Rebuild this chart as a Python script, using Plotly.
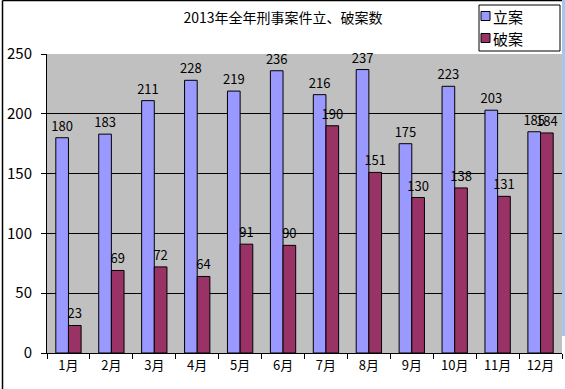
import plotly.graph_objects as go

months = ["1月", "2月", "3月", "4月", "5月", "6月", "7月", "8月", "9月", "10月", "11月", "12月"]
lian = [180, 183, 211, 228, 219, 236, 216, 237, 175, 223, 203, 185]
poan = [23, 69, 72, 64, 91, 90, 190, 151, 130, 138, 131, 184]
y_ticks = [0, 50, 100, 150, 200, 250]
series_names = ["立案", "破案"]
series_colors = ["#9999FF", "#993366"]

FONT = "Noto Sans CJK SC"
W, H = 565, 389
L, R, T, B = 47, 3, 54, 36
PW, PH = W - L - R, H - T - B


def px(x):
    return (x - L) / PW


def py(y):
    return 1 - (y - T) / PH


fig = go.Figure()
for name, vals, col in zip(series_names, [lian, poan], series_colors):
    fig.add_trace(go.Bar(
        x=months, y=vals, name=name,
        marker=dict(color=col, line=dict(color="black", width=1)),
        text=vals, textposition="outside", cliponaxis=False, constraintext="none",
        textfont=dict(size=13, color="black", family=FONT),
        showlegend=False,
    ))

fig.update_layout(
    width=W, height=H,
    margin=dict(l=L, r=R, t=T, b=B, pad=0),
    paper_bgcolor="white",
    plot_bgcolor="#C0C0C0",
    barmode="group", bargap=0.41, bargroupgap=0,
    font=dict(family=FONT, size=13, color="black"),
    title=dict(text="2013年全年刑事案件立、破案数", x=px(283), xanchor="center",
               y=1 - 18 / H, yanchor="middle", font=dict(size=14, family=FONT)),
    uniformtext=dict(mode=False),
    showlegend=False,
)
fig.update_xaxes(
    showline=True, linecolor="black", linewidth=1, mirror=False,
    ticks="outside", ticklen=5, tickcolor="black", tickson="boundaries",
    showgrid=False, tickfont=dict(size=13, family=FONT),
)
fig.update_yaxes(
    range=[0, 250], tickvals=y_ticks, showline=True, linecolor="black", linewidth=1,
    ticks="outside", ticklen=5, tickcolor="black", ticklabelstandoff=6,
    showgrid=True, gridcolor="black", gridwidth=1, zeroline=False,
    tickfont=dict(size=15, family=FONT),
)
fig.layout.title.xref = "paper"
# chart frame (left and top edges)
fig.add_shape(type="line", xref="paper", yref="paper",
              x0=px(2.5), x1=px(2.5), y0=py(389), y1=py(0.5),
              line=dict(color="black", width=1.5))
fig.add_shape(type="line", xref="paper", yref="paper",
              x0=px(2.5), x1=px(562), y0=py(0.5), y1=py(0.5),
              line=dict(color="black", width=1.5))
# right-edge selection strip
fig.add_shape(type="rect", xref="paper", yref="paper",
              x0=px(562), x1=px(566), y0=py(336), y1=py(0),
              line=dict(width=0), fillcolor="#A3C6F2", layer="above")
# legend box
fig.add_shape(type="rect", xref="paper", yref="paper",
              x0=px(479), x1=px(560), y0=py(51), y1=py(5),
              line=dict(color="black", width=1), fillcolor="white")
for i, (name, col) in enumerate(zip(series_names, series_colors)):
    cy = 16 + i * 22
    fig.add_shape(type="rect", xref="paper", yref="paper",
                  x0=px(481), x1=px(490), y0=py(cy + 4.5), y1=py(cy - 4.5),
                  line=dict(color="black", width=1), fillcolor=col)
    fig.add_annotation(x=px(491), y=py(cy), xref="paper", yref="paper",
                       text=name, showarrow=False, xanchor="left", yanchor="middle",
                       font=dict(size=15, family=FONT, color="black"))

fig.write_html("out.html", config={"displayModeBar": False},
               post_script="document.body.style.margin='0';document.body.style.overflow='hidden';")
